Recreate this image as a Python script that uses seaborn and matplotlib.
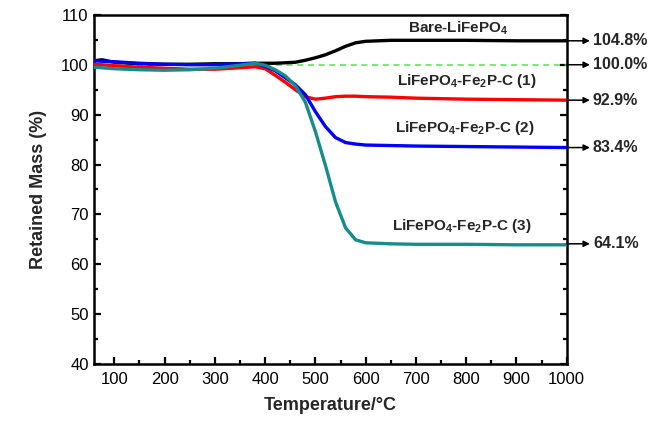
import numpy as np
import pandas as pd
import matplotlib
matplotlib.use("Agg")
import matplotlib.pyplot as plt
from matplotlib.ticker import MultipleLocator
import seaborn as sns

# TGA data
temperature = [60, 75, 100, 150, 200, 250, 300, 350, 380, 400, 420, 440, 460,
               480, 500, 520, 540, 560, 580, 600, 650, 700, 800, 900, 1000]
bare = [100.8, 101.0, 100.5, 100.2, 100.1, 100.1, 100.2, 100.2, 100.3, 100.3, 100.3,
        100.4, 100.5, 100.9, 101.4, 102.0, 102.8, 103.7, 104.4, 104.7, 104.9,
        104.9, 104.9, 104.8, 104.8]
sample1 = [100.1, 100.0, 99.8, 99.5, 99.3, 99.1, 99.1, 99.4, 99.6, 99.2, 97.9,
           96.5, 95.0, 93.6, 93.1, 93.3, 93.6, 93.7, 93.7, 93.6, 93.5, 93.3,
           93.1, 93.0, 92.9]
sample2 = [100.8, 100.7, 100.6, 100.3, 100.1, 100.0, 100.0, 100.2, 100.3, 99.7,
           98.8, 97.4, 96.0, 94.0, 90.6, 87.6, 85.4, 84.4, 84.1, 83.9, 83.8,
           83.7, 83.6, 83.5, 83.4]
sample3 = [99.5, 99.4, 99.2, 99.0, 98.9, 99.0, 99.3, 99.9, 100.3, 99.9, 99.0,
           97.8, 95.8, 92.5, 86.6, 79.8, 72.5, 67.3, 64.9, 64.3, 64.1, 64.0,
           64.0, 63.9, 63.9]

series_names = ["Bare", "(1)", "(2)", "(3)"]
series_colors = ["#000000", "#ff0000", "#0000ff", "#178c8c"]
curve_labels = [r"Bare-LiFePO$_4$", r"LiFePO$_4$-Fe$_2$P-C (1)",
                r"LiFePO$_4$-Fe$_2$P-C (2)", r"LiFePO$_4$-Fe$_2$P-C (3)"]
curve_label_pos = [(784, 107.4), (801, 96.8), (798, 87.4), (792, 67.6)]
end_values = [104.8, 100.0, 92.9, 83.4, 64.1]
reference_level = 100.0

df = pd.DataFrame({
    "Temperature": temperature * 4,
    "Mass": bare + sample1 + sample2 + sample3,
    "Sample": np.repeat(series_names, len(temperature)),
})

sns.set_style("ticks")
plt.rcParams["font.family"] = ["Liberation Sans", "DejaVu Sans"]
plt.rcParams["mathtext.fontset"] = "custom"
plt.rcParams["mathtext.rm"] = "Liberation Sans:bold"
plt.rcParams["mathtext.bf"] = "Liberation Sans:bold"
plt.rcParams["mathtext.default"] = "bf"

fig = plt.figure(figsize=(6.59, 4.25), dpi=100)
ax = fig.add_axes([0.143, 0.1435, 0.717, 0.8215])

ax.axhline(reference_level, color="#55e055", lw=1.1, dashes=(4, 3), zorder=1)
sns.lineplot(data=df, x="Temperature", y="Mass", hue="Sample",
             hue_order=series_names, palette=series_colors, linewidth=2.4,
             legend=False, ax=ax, zorder=3)

ax.set_xlim(60, 1000)
ax.set_ylim(40, 110)
ax.xaxis.set_major_locator(MultipleLocator(100))
ax.xaxis.set_minor_locator(MultipleLocator(50))
ax.yaxis.set_major_locator(MultipleLocator(10))
ax.yaxis.set_minor_locator(MultipleLocator(5))
ax.tick_params(which="both", direction="in", right=True, top=False, width=1.6,
               labelsize=12, colors="black")
ax.tick_params(which="major", length=5)
ax.tick_params(which="minor", length=3)
ax.tick_params(axis="x", pad=6)
ax.tick_params(axis="y", pad=4)
for sp in ax.spines.values():
    sp.set_linewidth(1.8)
    sp.set_color("black")

ax.set_xlabel("Temperature/°C", fontsize=13, fontweight="bold", labelpad=7)
ax.set_ylabel("Retained Mass (%)", fontsize=13, fontweight="bold", labelpad=10)

for text, (tx, ty) in zip(curve_labels, curve_label_pos):
    ax.text(tx, ty, text, ha="center", va="center", fontsize=11,
            fontweight="bold")

for v in end_values:
    ax.annotate("", xy=(1046, v), xytext=(1000, v), annotation_clip=False,
                arrowprops=dict(arrowstyle="-|>", color="black", lw=1.1,
                                mutation_scale=9, shrinkA=0, shrinkB=0))
    ax.text(1052, v, f"{v:.1f}%", ha="left", va="center", fontsize=11.5,
            fontweight="bold", clip_on=False)

fig.savefig("out.png", dpi=100)
